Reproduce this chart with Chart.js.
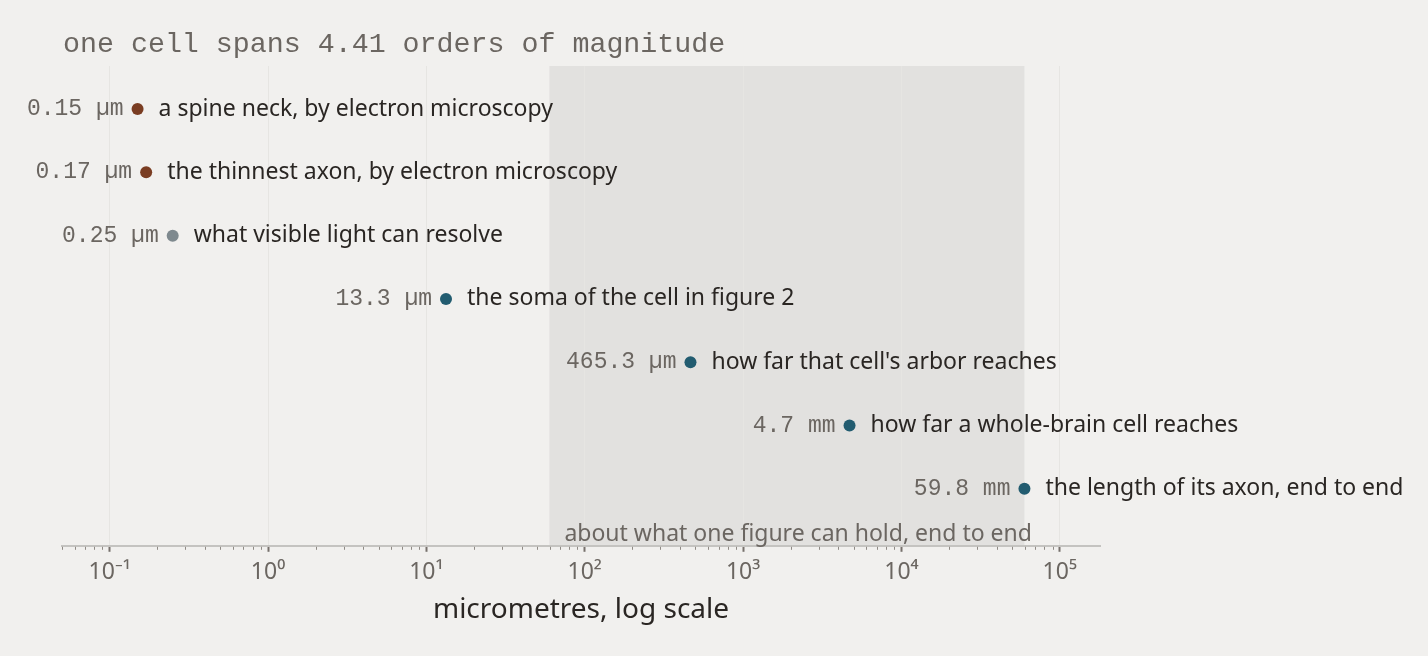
<!DOCTYPE html>
<html>
<head>
<meta charset="utf-8">
<script src="https://cdn.jsdelivr.net/npm/chart.js@4.4.1/dist/chart.umd.min.js"></script>
<style>
  html, body { margin: 0; background: #f1f0ee; }
  #wrap { width: 1428px; height: 656px; position: relative; }
</style>
</head>
<body>
<div id="wrap"><canvas id="chart"></canvas></div>
<script>
// Data
const descriptions = [
  "a spine neck, by electron microscopy",
  "the thinnest axon, by electron microscopy",
  "what visible light can resolve",
  "the soma of the cell in figure 2",
  "how far that cell's arbor reaches",
  "how far a whole-brain cell reaches",
  "the length of its axon, end to end"
];
const valueLabels = ["0.15 µm", "0.17 µm", "0.25 µm", "13.3 µm", "465.3 µm", "4.7 mm", "59.8 mm"];
const valuesUm = [0.15, 0.17, 0.25, 13.3, 465.3, 4700, 59800];
const pointColors = ["#7a3d22", "#7a3d22", "#7e898e", "#225c70", "#225c70", "#225c70", "#225c70"];

const majorTicks = [0.1, 1, 10, 100, 1000, 10000, 100000];
const tickLabels = ["10⁻¹", "10⁰", "10¹", "10²", "10³", "10⁴", "10⁵"];
const minorSignificands = [2, 3, 4, 5, 6, 7, 8, 9];

const bandRange = [59.8, 59800];
const bandLabel = "about what one figure can hold, end to end";
const titleText = "one cell spans 4.41 orders of magnitude";
const axisTitle = "micrometres, log scale";

const xMin = 0.05, xMax = 179400;

const MONO = "'Liberation Mono', 'DejaVu Sans Mono', monospace";
const SANS = "'Noto Sans', 'Open Sans', sans-serif";
const GREY = "#6b6661";
const INK = "#2a2623";

// minor tick positions within the axis range
const minorTicks = [];
[0.01, 0.1, 1, 10, 100, 1000, 10000].forEach(d => {
  minorSignificands.forEach(s => {
    const v = +(s * d).toPrecision(3);
    if (v >= xMin && v <= xMax) minorTicks.push(v);
  });
});

const points = valuesUm.map((v, i) => ({ x: v, y: i }));

const decor = {
  id: "decor",
  beforeDraw(chart) {
    const { ctx, chartArea, scales: { x } } = chart;
    const x0 = x.getPixelForValue(bandRange[0]);
    const x1 = x.getPixelForValue(bandRange[1]);
    ctx.save();
    ctx.fillStyle = "#e2e1df";
    ctx.fillRect(x0, chartArea.top, x1 - x0, chartArea.bottom - chartArea.top);
    ctx.restore();
  },
  afterDatasetsDraw(chart) {
    const { ctx, chartArea, scales: { x } } = chart;
    ctx.save();
    // band label
    ctx.fillStyle = GREY;
    ctx.font = "23px " + SANS;
    ctx.textAlign = "left";
    ctx.textBaseline = "middle";
    ctx.fillText(bandLabel, x.getPixelForValue(bandRange[0]) + 15, chartArea.bottom - 11);

    // point labels
    const meta = chart.getDatasetMeta(0);
    meta.data.forEach((pt, i) => {
      ctx.textBaseline = "middle";
      ctx.font = "23px " + MONO;
      ctx.fillStyle = GREY;
      ctx.textAlign = "right";
      ctx.fillText(valueLabels[i], pt.x - 14, pt.y);
      ctx.font = "23px " + SANS;
      ctx.fillStyle = INK;
      ctx.textAlign = "left";
      ctx.fillText(descriptions[i], pt.x + 21, pt.y);
    });

    // title
    ctx.font = "28.3px " + MONO;
    ctx.fillStyle = GREY;
    ctx.textAlign = "left";
    ctx.fillText(titleText, 63, 45);
    ctx.restore();
  },
  afterDraw(chart) {
    const { ctx, chartArea, scales: { x } } = chart;
    ctx.save();
    ctx.strokeStyle = "#8f8a85";
    ctx.lineWidth = 1;
    minorTicks.forEach(v => {
      const px = Math.round(x.getPixelForValue(v)) + 0.5;
      ctx.beginPath();
      ctx.moveTo(px, chartArea.bottom + 1);
      ctx.lineTo(px, chartArea.bottom + 4);
      ctx.stroke();
    });
    ctx.restore();
  }
};

new Chart(document.getElementById("chart"), {
  type: "scatter",
  data: {
    datasets: [{
      data: points,
      backgroundColor: pointColors,
      borderWidth: 0,
      pointRadius: 6,
      pointHoverRadius: 6
    }]
  },
  options: {
    responsive: true,
    maintainAspectRatio: false,
    animation: false,
    layout: { padding: { left: 62, right: 328, top: 66, bottom: 29 } },
    plugins: { legend: { display: false }, tooltip: { enabled: false } },
    scales: {
      x: {
        type: "logarithmic",
        min: xMin,
        max: xMax,
        afterBuildTicks(scale) {
          scale.ticks = majorTicks.map(v => ({ value: v }));
        },
        ticks: {
          autoSkip: false,
          maxRotation: 0,
          padding: 7,
          color: GREY,
          font: { family: SANS, size: 23 },
          callback: (v) => tickLabels[majorTicks.indexOf(v)]
        },
        grid: {
          color: "#e6e5e2",
          lineWidth: 1,
          tickLength: 6,
          tickColor: "#77716c",
          tickWidth: 2
        },
        border: { color: "#c4c3c0", width: 2 },
        title: {
          display: true,
          text: axisTitle,
          color: INK,
          font: { family: SANS, size: 28 },
          padding: { top: 0, bottom: 0 }
        }
      },
      y: {
        type: "linear",
        reverse: true,
        min: -0.68,
        max: 6.9,
        display: false
      }
    }
  },
  plugins: [decor]
});
</script>
</body>
</html>
